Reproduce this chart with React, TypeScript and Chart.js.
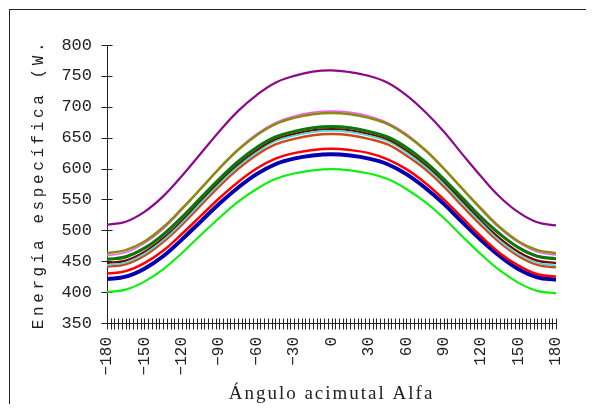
import { useEffect, useRef } from "react";
import { Chart, registerables } from "chart.js";

Chart.register(...registerables);

// Azimuth angle (degrees)
const angles = [-180, -165, -150, -135, -120, -105, -90, -75, -60, -45, -30, -15, 0, 15, 30, 45, 60, 75, 90, 105, 120, 135, 150, 165, 180];

// Series values
const purpleSeries = [509, 514, 530, 555, 588, 624, 660, 693, 719, 739, 750, 757, 759, 756, 750, 739, 719, 692, 660, 623, 587, 554, 529, 513, 508];
const oliveSeries = [463, 468, 482, 505, 535, 567, 600, 630, 654, 672, 682, 688, 690, 688, 682, 672, 654, 630, 600, 567, 535, 505, 482, 468, 463];
const violetSeries = [459, 464, 479, 502, 533, 567, 601, 631, 656, 674, 685, 691, 693, 691, 685, 674, 656, 631, 601, 567, 533, 503, 480, 465, 460];
const greenSeries = [453, 457, 471, 493, 521, 552, 583, 611, 634, 651, 660, 666, 668, 666, 660, 651, 634, 611, 583, 552, 521, 494, 472, 458, 454];
const cyanSeries = [444, 448, 462, 484, 512, 544, 575, 603, 626, 644, 653, 659, 661, 659, 653, 644, 626, 603, 575, 543, 512, 483, 461, 447, 443];
const maroonSeries = [447, 451, 465, 487, 515, 547, 578, 606, 629, 647, 656, 662, 664, 662, 656, 647, 629, 606, 578, 547, 515, 487, 465, 451, 447];
const orangeSeries = [441, 445, 459, 481, 509, 540, 571, 599, 622, 639, 648, 654, 656, 654, 648, 639, 621, 599, 571, 539, 508, 480, 458, 444, 440];
const redSeries = [430, 434, 447, 467, 494, 523, 552, 578, 600, 616, 625, 630, 632, 630, 625, 615, 599, 577, 550, 520, 490, 463, 443, 429, 425];
const blueSeries = [421, 425, 438, 458, 485, 514, 543, 569, 591, 607, 616, 621, 623, 621, 616, 607, 591, 569, 543, 513, 484, 458, 437, 424, 420];
const limeSeries = [400, 404, 417, 437, 463, 492, 520, 546, 567, 583, 592, 597, 599, 597, 592, 583, 567, 546, 520, 490, 461, 435, 415, 402, 398];

// Axes
const xMin = -180;
const xMax = 180;
const xMinorStep = 3;
const xLabelStep = 30;
const yMin = 350;
const yMax = 800;
const yStep = 50;

const xTitle = "Ángulo acimutal Alfa";
const yTitle = "Energía específica (W.";

const seriesList = [
  { data: purpleSeries, color: "#8a0a8a", width: 2.2 },
  { data: oliveSeries, color: "#8c8a10", width: 2.5 },
  { data: violetSeries, color: "#f060f0", width: 1.6 },
  { data: greenSeries, color: "#0a780a", width: 3.2 },
  { data: cyanSeries, color: "#40e0e0", width: 1.6 },
  { data: maroonSeries, color: "#800000", width: 2.2 },
  { data: orangeSeries, color: "#d2461a", width: 2.4 },
  { data: redSeries, color: "#ff0000", width: 2.5 },
  { data: blueSeries, color: "#0000b0", width: 4 },
  { data: limeSeries, color: "#10f010", width: 2.2 },
];

const INK = "#222";

const axesPlugin = {
  id: "customAxes",
  beforeDatasetsDraw(chart: any) {
    const { ctx, chartArea: ca, scales } = chart;
    const xs = scales.x;
    const ys = scales.y;
    ctx.save();
    ctx.strokeStyle = INK;
    ctx.lineWidth = 1;
    const x0 = Math.round(xs.getPixelForValue(xMin)) + 0.5;
    const y0 = Math.round(ys.getPixelForValue(yMin)) + 0.5;
    ctx.beginPath();
    ctx.moveTo(x0, Math.round(ys.getPixelForValue(yMax)));
    ctx.lineTo(x0, y0);
    ctx.lineTo(Math.round(xs.getPixelForValue(xMax)) + 1, y0);
    xs.ticks.forEach((t: any) => {
      const px = Math.round(xs.getPixelForValue(t.value)) + 0.5;
      ctx.moveTo(px, y0 - 5);
      ctx.lineTo(px, y0 + 6);
    });
    ys.ticks.forEach((t: any) => {
      const py = Math.round(ys.getPixelForValue(t.value)) + 0.5;
      ctx.moveTo(x0 - 6, py);
      ctx.lineTo(x0 + 5, py);
    });
    ctx.stroke();

    ctx.fillStyle = INK;
    // y title
    ctx.save();
    ctx.font = '16px "Liberation Mono"';
    (ctx as any).letterSpacing = "3.6px";
    ctx.textAlign = "center";
    ctx.textBaseline = "alphabetic";
    ctx.translate(35, (ca.top + ca.bottom) / 2);
    ctx.rotate(-Math.PI / 2);
    ctx.fillText(yTitle, 0, 0);
    ctx.restore();
    // x title
    ctx.save();
    ctx.font = '19px "Liberation Serif"';
    (ctx as any).letterSpacing = "2px";
    ctx.textAlign = "center";
    ctx.textBaseline = "alphabetic";
    ctx.fillText(xTitle, (ca.left + ca.right) / 2, 391);
    ctx.restore();
    ctx.restore();
  },
};

export default function App() {
  const canvasRef = useRef<HTMLCanvasElement | null>(null);

  useEffect(() => {
    if (!canvasRef.current) return;
    const chart = new Chart(canvasRef.current, {
      type: "line",
      data: {
        datasets: seriesList.map((s, i) => ({
          label: "s" + i,
          data: angles.map((a, k) => ({ x: a, y: s.data[k] })),
          borderColor: s.color,
          borderWidth: s.width,
          pointRadius: 0,
          fill: false,
          tension: 0.4,
        })),
      },
      options: {
        animation: false,
        responsive: false,
        devicePixelRatio: 1,
        layout: { padding: { top: 37, right: 38, left: 0, bottom: 0 } },
        plugins: { legend: { display: false }, tooltip: { enabled: false } },
        scales: {
          x: {
            type: "linear",
            min: xMin,
            max: xMax,
            grid: { display: false, drawTicks: false },
            border: { display: false },
            afterFit: (s: any) => {
              s.height = 89;
            },
            ticks: {
              stepSize: xMinorStep,
              autoSkip: false,
              maxTicksLimit: 500,
              minRotation: 90,
              maxRotation: 90,
              padding: 14,
              color: INK,
              font: { family: "Liberation Mono", size: 16 },
              callback: (v: any) => {
                const n = Number(v);
                if (n % xLabelStep !== 0) return "";
                return n < 0 ? "\u2212" + Math.abs(n) : String(n);
              },
            },
          },
          y: {
            min: yMin,
            max: yMax,
            grid: { display: false, drawTicks: false },
            border: { display: false },
            afterFit: (s: any) => {
              s.width = 99;
            },
            ticks: {
              stepSize: yStep,
              padding: 15,
              color: INK,
              font: { family: "Liberation Mono", size: 17 },
            },
          },
        },
      },
      plugins: [axesPlugin],
    });
    return () => chart.destroy();
  }, []);

  return (
    <div style={{ position: "relative", width: 586, height: 404, overflow: "hidden", marginBottom: -8 }}>
      <div
        style={{
          position: "absolute",
          left: 1,
          top: 1,
          width: 800,
          height: 800,
          borderTop: "1.5px solid #222",
          borderLeft: "1.5px solid #222",
        }}
      />
      <canvas ref={canvasRef} width={586} height={404} style={{ position: "absolute", left: 0, top: 0, width: 586, height: 404 }} />
    </div>
  );
}
